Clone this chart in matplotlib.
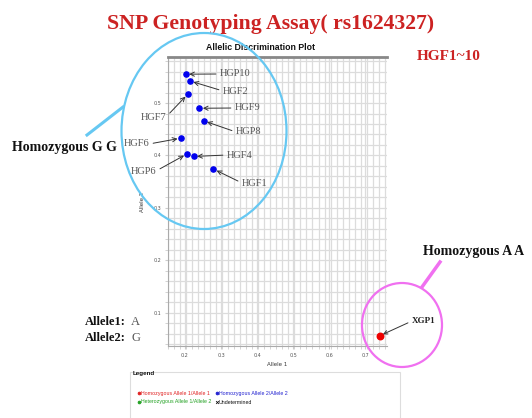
import matplotlib
matplotlib.use("Agg")
import matplotlib.pyplot as plt
import numpy as np
from matplotlib.patches import Ellipse, Rectangle
from matplotlib.lines import Line2D

# ---- data ----
hom22_labels = ['HGP10', 'HGF2', 'HGF7', 'HGF9', 'HGP8', 'HGF6', 'HGP6', 'HGF4', 'HGF1']
hom22_allele1 = [0.202, 0.214, 0.208, 0.240, 0.252, 0.189, 0.206, 0.224, 0.279]
hom22_allele2 = [0.555, 0.542, 0.517, 0.490, 0.466, 0.433, 0.403, 0.398, 0.374]
hom11_labels = ['XGP1']
hom11_allele1 = [0.740]
hom11_allele2 = [0.056]
x_ticks = [0.2, 0.3, 0.4, 0.5, 0.6, 0.7]
y_ticks = [0.1, 0.2, 0.3, 0.4, 0.5]

W, H = 532, 418
fig = plt.figure(figsize=(W / 100, H / 100), dpi=100)
fig.patch.set_facecolor('white')

def fx(x):
    return x / W

def fy(y):
    return 1 - y / H

ax = fig.add_axes([fx(168), fy(346), (387 - 168) / W, (346 - 57) / H])
ax.set_xlim(0.153, 0.76)
ax.set_ylim(0.0364, 0.5878)

# grid
ax.set_xticks(x_ticks)
ax.set_yticks(y_ticks)
ax.set_xticks(np.arange(0.1535, 0.76, 0.1 / 6), minor=True)
ax.set_yticks(np.arange(0.04, 0.59, 0.02), minor=True)
ax.grid(True, which='both', color='#dcdcdc', lw=0.9)
ax.set_axisbelow(True)
ax.tick_params(which='both', length=2, color='#cccccc', labelsize=3.5, labelcolor='#555555', pad=3)
ax.set_xticklabels(['%.1f' % v for v in x_ticks])
ax.set_yticklabels(['%.1f' % v for v in y_ticks])
ax.spines['right'].set_visible(False)
ax.spines['top'].set_color('#888888')
ax.spines['top'].set_linewidth(2)
ax.spines['left'].set_color('#aaaaaa')
ax.spines['bottom'].set_color('#aaaaaa')
ax.set_xlabel('Allele 1', fontsize=4, color='#333333', labelpad=3)
ax.set_ylabel('Allele 2', fontsize=4, color='#333333', labelpad=6)

ax.scatter(hom22_allele1, hom22_allele2, s=14, color='#0000ee', zorder=5)
ax.scatter(hom11_allele1, hom11_allele2, s=22, color='#ee0000', zorder=5)

# label positions (figure pixels from top-left) and alignment
label_pos = {
    'HGP10': (220, 74, 'left'),
    'HGF2': (223, 91, 'left'),
    'HGF7': (166, 117, 'right'),
    'HGF9': (235, 108, 'left'),
    'HGP8': (236, 132, 'left'),
    'HGF6': (149, 144, 'right'),
    'HGP6': (156, 171, 'right'),
    'HGF4': (227, 155, 'left'),
    'HGF1': (242, 183, 'left'),
    'XGP1': (412, 321, 'left'),
}

serif = ['Liberation Serif', 'DejaVu Serif']

def label(name, x, y):
    px, py, ha = label_pos[name]
    bold = name == 'XGP1'
    ax.annotate(name, xy=(x, y), xycoords='data',
                xytext=(px, H - py), textcoords='figure pixels',
                ha=ha, va='center', fontsize=7.5 if not bold else 6.5,
                family=serif, color='#555555' if not bold else '#222222',
                fontweight='bold' if bold else 'normal',
                arrowprops=dict(arrowstyle='->', color='#333333', lw=0.7,
                                shrinkA=1, shrinkB=2.5,
                                relpos=(0, 0.5) if ha == 'left' else (1, 0.5)),
                zorder=6)

for n, x, y in zip(hom22_labels, hom22_allele1, hom22_allele2):
    label(n, x, y)
for n, x, y in zip(hom11_labels, hom11_allele1, hom11_allele2):
    label(n, x, y)

# titles
fig.text(fx(271), fy(24), 'SNP Genotyping Assay( rs1624327)', ha='center', va='center',
         fontsize=15.7, fontweight='bold', color='#cc2222', family=serif)
fig.text(fx(449), fy(57), 'HGF1~10', ha='center', va='center',
         fontsize=11, fontweight='bold', color='#cc2222', family=serif)
fig.text(fx(261), fy(47), 'Allelic Discrimination Plot', ha='center', va='center',
         fontsize=6.3, fontweight='bold', color='#111111', family=['Liberation Sans', 'DejaVu Sans'])

# highlight ellipses
fig.add_artist(Ellipse((fx(204), fy(131)), 165 / W, 196 / H, transform=fig.transFigure,
                       fill=False, ec='#66c8f2', lw=1.6, zorder=7))
fig.add_artist(Line2D([fx(87), fx(123)], [fy(135), fy(107)], transform=fig.transFigure,
                      color='#66c8f2', lw=2.2, zorder=7))
fig.add_artist(Ellipse((fx(402), fy(325)), 80 / W, 84 / H, transform=fig.transFigure,
                       fill=False, ec='#f070f0', lw=1.6, zorder=7))
fig.add_artist(Line2D([fx(422), fx(440)], [fy(287), fy(262)], transform=fig.transFigure,
                      color='#f070f0', lw=2.5, zorder=7))

fig.text(fx(12), fy(147), 'Homozygous G G', ha='left', va='center', fontsize=10,
         fontweight='bold', color='#111111', family=serif)
fig.text(fx(423), fy(252), 'Homozygous A A', ha='left', va='center', fontsize=10,
         fontweight='bold', color='#111111', family=serif)

fig.text(fx(85), fy(322), 'Allele1:', ha='left', va='center', fontsize=9,
         fontweight='bold', color='#111111', family=serif)
fig.text(fx(131), fy(322), 'A', ha='left', va='center', fontsize=9,
         color='#555555', family=serif)
fig.text(fx(85), fy(338), 'Allele2:', ha='left', va='center', fontsize=9,
         fontweight='bold', color='#111111', family=serif)
fig.text(fx(131), fy(338), 'G', ha='left', va='center', fontsize=9,
         color='#555555', family=serif)

# legend box
fig.add_artist(Rectangle((fx(130), fy(420)), (400 - 130) / W, (420 - 372) / H,
                         transform=fig.transFigure, fill=False, ec='#dddddd', lw=0.8))
sans = ['Liberation Sans', 'DejaVu Sans']
fig.text(fx(133), fy(374), 'Legend', ha='left', va='center', fontsize=4.5,
         fontweight='bold', color='#111111', family=sans)
legend_items = [
    (139, 393, '#e02020', 'Homozygous Allele 1/Allele 1', 'o'),
    (217, 393, '#2020d0', 'Homozygous Allele 2/Allele 2', 'o'),
    (139, 402, '#20a020', 'Heterozygous Allele 1/Allele 2', 'o'),
    (217, 402, '#111111', 'Undetermined', 'x'),
]
for x, y, c, t, m in legend_items:
    fig.add_artist(Line2D([fx(x)], [fy(y)], transform=fig.transFigure, marker=m,
                          ms=2, color=c, mew=0.6, ls='none'))
    fig.text(fx(x + 2), fy(y), t, ha='left', va='center', fontsize=3.8,
             color=c, family=sans)

fig.savefig('out.png', dpi=100)
